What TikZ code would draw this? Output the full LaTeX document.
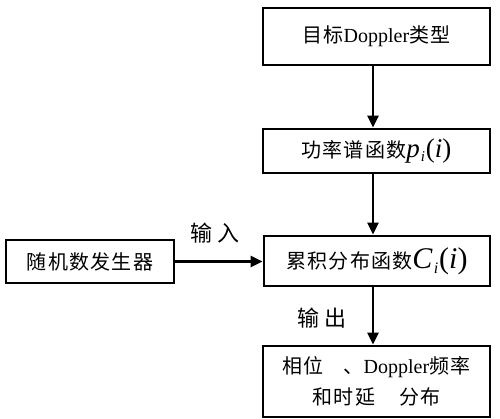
\documentclass[tikz,border=0pt]{standalone}
\usepackage{fontspec}
\setmainfont{Liberation Serif}
\newfontfamily\cjk[LetterSpace=6]{Noto Sans CJK SC}
\usetikzlibrary{arrows.meta}
\tikzset{
  box/.style={draw, line width=2.8pt, rectangle, inner sep=0pt, align=center},
  arr/.style={line width=2.8pt, -{Triangle[length=12pt,width=11pt]}},
  lbl/.style={inner sep=0pt, font=\fontsize{22}{24}\selectfont\cjk}
}
\newcommand{\mi}[1]{\textit{#1}}
\begin{document}
\begin{tikzpicture}[x=1pt,y=-1pt]
\useasboundingbox (0,0) rectangle (500,418);
\node[box, minimum width=227pt, minimum height=57pt, font=\fontsize{20}{22}\selectfont] (b1) at (376.5,36.5)
  {{\cjk 目标}Doppler{\cjk 类型}};
\node[box, minimum width=227pt, minimum height=44pt, font=\fontsize{20}{22}\selectfont] (b2) at (376.5,151)
  {{\cjk 功率谱函数}{\fontsize{27}{27}\selectfont\mi{p}\kern1pt\raisebox{-0.35ex}{\fontsize{15}{15}\selectfont\mi{i}}\kern1pt(\mi{i})}};
\node[box, minimum width=226pt, minimum height=50pt, font=\fontsize{20}{22}\selectfont] (b3) at (377,261)
  {{\cjk 累积分布函数}{\fontsize{30}{30}\selectfont\mi{C}\kern1pt\raisebox{-0.4ex}{\fontsize{16}{16}\selectfont\mi{i}}\kern1pt(\mi{i})}};
\node[box, minimum width=227pt, minimum height=71pt, font=\fontsize{20}{31}\selectfont] (b4) at (376.5,381.5)
  {{\cjk 相位\hspace{1em}、}Doppler{\cjk 频率}\\{\cjk 和时延\hspace{1.2em}分布}};
\node[box, minimum width=168pt, minimum height=43pt, font=\fontsize{20}{22}\selectfont\cjk] (r) at (90,261.5)
  {随机数发生器};
\node[lbl] (in) at (215,233) {输\hspace{0.25em}入};
\node[lbl] (out) at (322,318) {输\hspace{0.25em}出};
\draw[arr] ([xshift=-3.5pt]b1.south) -- ([xshift=-3.5pt]b2.north);
\draw[arr] ([xshift=-3.5pt]b2.south) -- ([xshift=-4pt]b3.north);
\draw[arr] ([xshift=-4pt]b3.south) -- ([xshift=-3.5pt]b4.north);
\draw[arr] (r.east) -- (r.east -| b3.west);
\end{tikzpicture}
\end{document}
